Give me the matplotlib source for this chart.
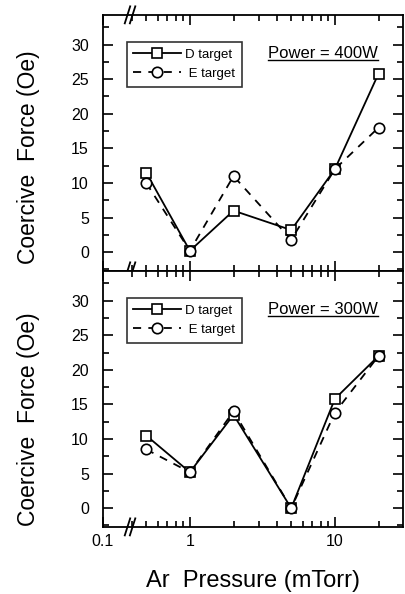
import numpy as np
import matplotlib
matplotlib.use("Agg")
import matplotlib.pyplot as plt
from matplotlib.ticker import FixedLocator, NullFormatter, FixedFormatter
from matplotlib.lines import Line2D

plt.rcParams['font.family'] = ['Liberation Sans', 'DejaVu Sans']

# Ar pressure (mTorr)
pressure = [0.5, 1, 2, 5, 10, 20]

# coercive force (Oe), power = 400W
d_400 = [11.5, 0.2, 6.0, 3.2, 12.0, 25.8]
e_400 = [10.0, 0.2, 11.0, 1.8, 12.0, 18.0]

# coercive force (Oe), power = 300W
d_300 = [10.5, 5.2, 13.5, 0.0, 15.8, 22.0]
e_300 = [8.5, 5.2, 14.0, 0.0, 13.8, 22.0]

panels = [("Power = 400W", d_400, e_400, 0.444), ("Power = 300W", d_300, e_300, 0.42)]

major_x = [0.1, 1, 10]
major_x_labels = ["0.1", "1", "10"]
minor_x = [0.4, 0.5, 0.6, 0.7, 0.8, 0.9, 2, 3, 4, 5, 6, 7, 8, 9, 20]

# broken log axis: below the break the decades are squeezed
lb = np.log10(0.385)
k = 0.317


def fwd(x):
    lx = np.log10(np.clip(np.asarray(x, dtype=float), 1e-6, None))
    return np.where(lx < lb, lb + (lx - lb) * k, lx)


def inv(u):
    u = np.asarray(u, dtype=float)
    return np.where(u < lb, 10 ** (lb + (u - lb) / k), 10 ** u)


fig, axes = plt.subplots(2, 1, figsize=(4.05, 5.94), dpi=100, sharex=True)
fig.subplots_adjust(left=0.254, right=0.995, bottom=0.113, top=0.975, hspace=0)

power_texts = []
for ax, (title, d, e, ylab_y) in zip(axes, panels):
    ax.set_xscale('function', functions=(fwd, inv))
    ax.plot(pressure, d, '-', color='black', lw=1.3, marker='s', ms=6.5,
            mfc='white', mec='black', mew=1.2, label='D target', zorder=3)
    ax.plot(pressure, e, '--', color='black', lw=1.3, marker='o', ms=7.5,
            mfc='white', mec='black', mew=1.2, label=' E target', dashes=(4.5, 4), zorder=4)
    ax.set_xlim(0.1, 29.5)
    ax.set_ylim(-2.7, 34.3)
    ax.set_yticks([0, 5, 10, 15, 20, 25, 30])
    ax.yaxis.set_minor_locator(FixedLocator([-2.5, 2.5, 7.5, 12.5, 17.5, 22.5, 27.5, 32.5]))
    ax.xaxis.set_major_locator(FixedLocator(major_x))
    ax.xaxis.set_minor_locator(FixedLocator(minor_x))
    ax.xaxis.set_minor_formatter(NullFormatter())
    ax.tick_params(which='both', direction='in', top=True, right=True, labelsize=11.5, width=1.2)
    ax.tick_params(axis='y', which='both', pad=10)
    ax.tick_params(which='major', length=7)
    ax.tick_params(which='minor', length=4)
    for sp in ax.spines.values():
        sp.set_linewidth(1.3)
    ax.set_ylabel("Coercive  Force (Oe)", fontsize=16.5)
    ax.yaxis.set_label_coords(-0.21, ylab_y)
    leg = ax.legend(loc='upper left', bbox_to_anchor=(0.08, 0.895), fontsize=9.5,
                    frameon=True, fancybox=False, handlelength=3.6, handletextpad=0.3,
                    borderpad=0.5, labelspacing=0.55, borderaxespad=0)
    leg.get_frame().set_edgecolor('black')
    leg.get_frame().set_linewidth(1.2)
    t = ax.text(0.917, 0.85, title, transform=ax.transAxes, ha='right', va='center', fontsize=12)
    power_texts.append(t)

axes[0].tick_params(labelbottom=False)
axes[1].xaxis.set_major_formatter(FixedFormatter(major_x_labels))
axes[1].tick_params(axis='x', which='major', pad=5)
axes[1].set_xlabel("Ar  Pressure (mTorr)", fontsize=17, labelpad=15)

# axis break marks
def break_marks(ax, y):
    h = 8.5 / ax.bbox.height
    for dx in (0.0, 0.017):
        x0 = 0.082 + dx
        ax.plot([x0 - 0.009, x0 + 0.009], [y - h, y + h], color='black',
                lw=1.3, transform=ax.transAxes, clip_on=False, zorder=5)

break_marks(axes[0], 1.0)
break_marks(axes[0], 0.0)
break_marks(axes[1], 0.0)

# underline the power labels
fig.canvas.draw()
for t in power_texts:
    bb = t.get_window_extent()
    y = bb.y0 + 1
    fig.add_artist(Line2D([bb.x0, bb.x1], [y, y], color='black', lw=1.0,
                          transform=None))

fig.savefig("out.png", dpi=100)
